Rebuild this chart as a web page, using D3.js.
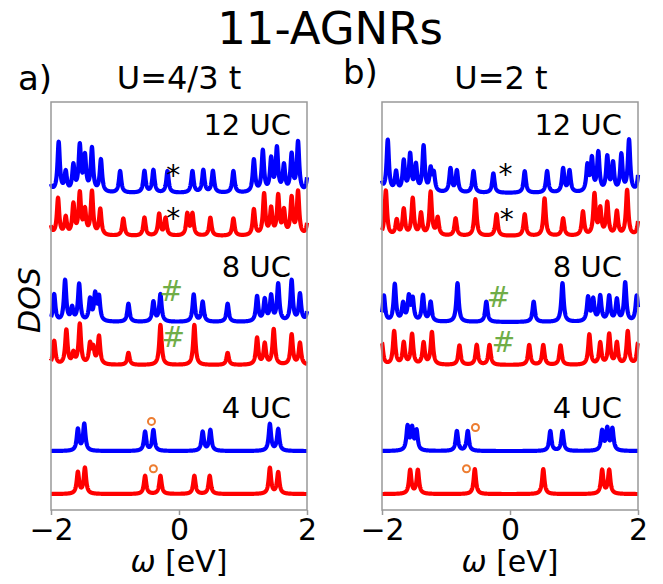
<!DOCTYPE html>
<html>
<head>
<meta charset="utf-8">
<script src="https://cdn.jsdelivr.net/npm/d3@7"></script>
<style>
  body { margin: 0; background: #fff; }
  text { font-family: "DejaVu Sans", sans-serif; }
</style>
</head>
<body>
<script>
// ---- data (peak position in eV, peak height in offset units) ----
const xTicks = [-2, 0, 2];
const panelTags = ["a)", "b)"];
const panelTitles = ["U=4/3 t", "U=2 t"];
const sizeLabels = ["12 UC", "8 UC", "4 UC"];
const labelOffsets = [8.36, 5.06, 1.78];
const curveOffsets = [7, 6, 4, 3, 1, 0];   // 12UC blue, 12UC red, 8UC blue, 8UC red, 4UC blue, 4UC red
const curveColors = ["#0000ff", "#ff0000", "#0000ff", "#ff0000", "#0000ff", "#ff0000"];

// panel a, U=4/3 t
const a12Blue = [[-2.04,0.7],[-1.88,1.15],[-1.77,0.45],[-1.65,0.6],[-1.55,1.05],[-1.47,0.8],[-1.36,1.0],[-1.22,0.75],
  [-0.92,0.5],[-0.54,0.5],[-0.40,0.52],[-0.18,0.5],[0.21,0.5],[0.38,0.52],[0.53,0.5],[0.85,0.5],
  [1.17,0.75],[1.31,0.95],[1.44,0.75],[1.53,1.0],[1.64,0.6],[1.76,0.85],[1.86,1.15],[2.02,0.6]];
const a12Red = [[-2.03,0.6],[-1.89,0.85],[-1.77,0.4],[-1.65,0.7],[-1.55,0.95],[-1.47,0.55],[-1.36,1.0],[-1.23,0.6],
  [-0.87,0.4],[-0.54,0.42],[-0.31,0.5],[-0.21,0.4],[0.13,0.5],[0.21,0.5],[0.49,0.42],[0.85,0.4],
  [1.17,0.6],[1.33,0.95],[1.44,0.6],[1.55,0.9],[1.64,0.55],[1.76,0.85],[1.86,1.0],[2.02,0.5]];
const a8Blue = [[-1.95,0.63],[-1.78,0.95],[-1.67,0.3],[-1.56,0.86],[-1.39,0.5],[-1.31,0.6],[-1.25,0.55],
  [-0.79,0.42],[-0.40,0.46],[-0.29,0.63],[0.23,0.63],[0.37,0.46],[0.76,0.42],
  [1.22,0.58],[1.34,0.5],[1.44,0.58],[1.55,0.86],[1.76,0.95],[1.89,0.63],[2.02,0.4]];
const a8Red = [[-1.95,0.55],[-1.76,0.8],[-1.65,0.25],[-1.55,0.93],[-1.39,0.45],[-1.34,0.35],[-1.25,0.65],
  [-0.79,0.28],[-0.29,0.93],[0.24,0.93],[0.76,0.28],
  [1.22,0.62],[1.34,0.48],[1.48,0.82],[1.76,0.7],[1.89,0.5]];
const a4Blue = [[-1.58,0.5],[-1.48,0.62],[-0.53,0.44],[-0.40,0.48],[0.37,0.44],[0.49,0.48],[1.42,0.62],[1.55,0.5]];
const a4Red = [[-1.58,0.5],[-1.47,0.6],[-0.53,0.42],[-0.29,0.42],[0.24,0.42],[0.48,0.42],[1.42,0.6],[1.55,0.5]];

// panel b, U=2 t
const b12Blue = [[-2.03,0.6],[-1.91,1.2],[-1.78,0.45],[-1.66,0.7],[-1.56,0.85],[-1.47,0.6],[-1.35,1.05],[-1.24,0.5],[-1.19,0.4],
  [-0.93,0.55],[-0.83,0.5],[-0.57,0.5],[-0.26,0.45],[0.23,0.5],[0.58,0.5],[0.83,0.55],[0.93,0.5],
  [1.21,0.6],[1.28,0.75],[1.38,0.9],[1.52,0.8],[1.61,0.65],[1.74,0.85],[1.86,1.2],[2.02,0.7]];
const b12Red = [[-1.94,1.05],[-1.77,0.35],[-1.66,0.6],[-1.52,0.85],[-1.39,0.5],[-1.24,1.0],[-1.13,0.4],
  [-0.85,0.4],[-0.54,0.85],[-0.21,0.5],[0.23,0.5],[0.54,0.87],[0.83,0.4],
  [1.14,0.55],[1.32,0.95],[1.41,0.6],[1.52,0.75],[1.67,0.55],[1.83,1.05],[2.02,0.6]];
const b8Blue = [[-1.97,0.6],[-1.80,0.86],[-1.67,0.4],[-1.58,0.55],[-1.52,0.5],[-1.36,0.6],[-1.24,0.45],
  [-0.82,0.9],[-0.37,0.47],[0.37,0.47],[0.82,0.9],
  [1.22,0.55],[1.30,0.5],[1.41,0.58],[1.55,0.58],[1.67,0.5],[1.80,0.9],[1.98,0.6]];
const b8Red = [[-2.0,0.5],[-1.81,0.77],[-1.66,0.5],[-1.53,0.7],[-1.35,0.5],[-1.22,0.75],
  [-0.79,0.45],[-0.52,0.46],[-0.32,0.46],[0.30,0.46],[0.52,0.46],[0.79,0.45],
  [1.24,0.7],[1.41,0.5],[1.55,0.7],[1.67,0.5],[1.84,0.77],[2.0,0.5]];
const b4Blue = [[-1.60,0.55],[-1.53,0.5],[-1.46,0.45],[-0.83,0.46],[-0.66,0.46],[0.63,0.46],[0.82,0.46],[1.44,0.45],[1.52,0.5],[1.60,0.5]];
const b4Red = [[-1.56,0.55],[-1.44,0.55],[-0.55,0.58],[0.52,0.58],[1.44,0.55],[1.55,0.55]];

// annotations: symbol, x (eV), y (offset units), colour
const marksA = [["*",-0.09,7.55,"#000"],["*",-0.09,6.55,"#000"],["#",-0.12,4.73,"#70ad47"],["#",-0.09,3.66,"#70ad47"],["o",-0.43,1.69,"#ed7d31"],["o",-0.40,0.59,"#ed7d31"]];
const marksB = [["*",-0.07,7.57,"#000"],["*",-0.05,6.52,"#000"],["#",-0.18,4.59,"#70ad47"],["#",-0.10,3.55,"#70ad47"],["o",-0.54,1.55,"#ed7d31"],["o",-0.68,0.59,"#ed7d31"]];

const panels = [
  {left: 51, right: 307, titleX: 179, curves: [a12Blue, a12Red, a8Blue, a8Red, a4Blue, a4Red], marks: marksA},
  {left: 382, right: 638, titleX: 501, curves: [b12Blue, b12Red, b8Blue, b8Red, b4Blue, b4Red], marks: marksB}
];

const W = 663, H = 584, plotTop = 102, plotBottom = 510;
const gamma = 0.022;
const grid = d3.range(-2, 2.0001, 0.002);

function dos(peaks, off) {
  return grid.map(x => [x, off + d3.sum(peaks, p => p[1] * gamma * gamma / ((x - p[0]) ** 2 + gamma * gamma))]);
}

const svg = d3.select("body").append("svg")
  .attr("width", W).attr("height", H)
  .style("background", "#fff");

const y = d3.scaleLinear().domain([-0.37, 9.12]).range([plotBottom, plotTop]);

svg.append("text").attr("x", 330).attr("y", 44)
  .attr("text-anchor", "middle").attr("font-size", 45).text("11-AGNRs");

svg.append("text")
  .attr("transform", `translate(40,300) rotate(-90)`)
  .attr("text-anchor", "middle").attr("font-size", 30).attr("font-style", "italic")
  .text("DOS");

panels.forEach((p, i) => {
  const x = d3.scaleLinear().domain([-2, 2]).range([p.left, p.right]);
  const g = svg.append("g");
  const cx = (p.left + p.right) / 2;

  g.append("text").attr("x", i === 0 ? 18 : 343).attr("y", i === 0 ? 90 : 84)
    .attr("font-size", 34).text(panelTags[i]);
  g.append("text").attr("x", p.titleX).attr("y", 89)
    .attr("text-anchor", "middle").attr("font-size", 32).text(panelTitles[i]);

  const line = d3.line().x(d => x(d[0])).y(d => y(d[1]));
  p.curves.forEach((peaks, k) => {
    g.append("path")
      .attr("d", line(dos(peaks, curveOffsets[k])))
      .attr("fill", "none")
      .attr("stroke", curveColors[k])
      .attr("stroke-width", 4.2)
      .attr("stroke-linejoin", "round");
  });

  sizeLabels.forEach((s, k) => {
    g.append("text").attr("x", x(1.75)).attr("y", y(labelOffsets[k]))
      .attr("text-anchor", "end").attr("font-size", 29).text(s);
  });

  p.marks.forEach(m => {
    if (m[0] === "o") {
      g.append("circle").attr("cx", x(m[1])).attr("cy", y(m[2])).attr("r", 3.5)
        .attr("fill", "none").attr("stroke", m[3]).attr("stroke-width", 2);
    } else {
      g.append("text").attr("x", x(m[1])).attr("y", y(m[2]))
        .attr("dy", m[0] === "*" ? "0.55em" : "0.36em")
        .attr("text-anchor", "middle").attr("font-size", 28).attr("fill", m[3]).text(m[0]);
    }
  });

  // frame
  g.append("rect").attr("x", p.left).attr("y", plotTop)
    .attr("width", p.right - p.left).attr("height", plotBottom - plotTop)
    .attr("fill", "none").attr("stroke", "#999").attr("stroke-width", 1.5);

  const ax = g.append("g").attr("transform", `translate(0,${plotBottom})`)
    .call(d3.axisBottom(x).tickValues(xTicks).tickSize(5).tickPadding(4).tickFormat(d3.format("d")));
  ax.select(".domain").remove();
  ax.selectAll("line").attr("stroke", "#999").attr("stroke-width", 1.5);
  ax.selectAll("text").attr("font-size", 30).attr("font-family", "DejaVu Sans").attr("fill", "#000");

  const xl = g.append("text").attr("x", cx).attr("y", 572)
    .attr("text-anchor", "middle").attr("font-size", 30);
  xl.append("tspan").attr("font-style", "italic").text("ω");
  xl.append("tspan").text(" [eV]");
});
</script>
</body>
</html>
